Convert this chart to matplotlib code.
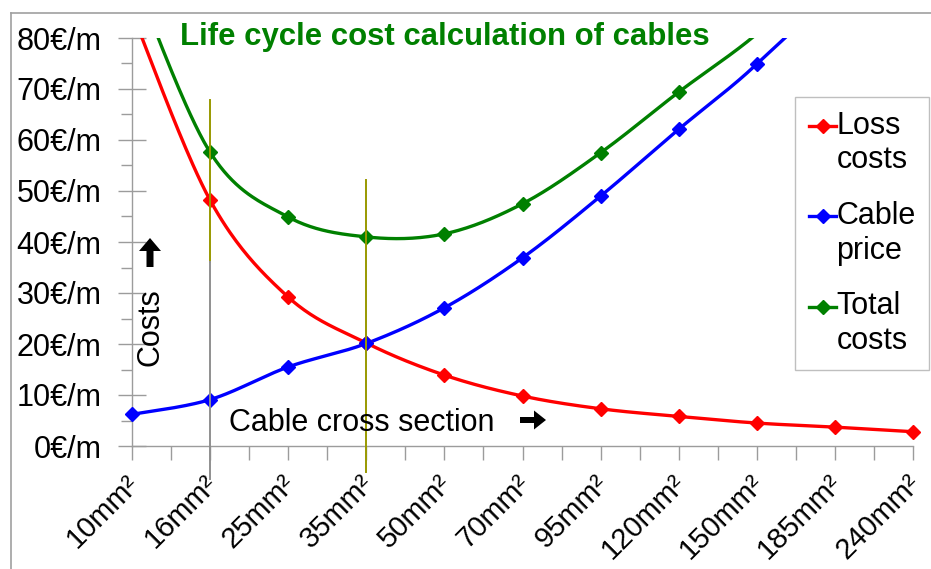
import numpy as np
import matplotlib
matplotlib.use("Agg")
import matplotlib.pyplot as plt
from matplotlib.lines import Line2D
from matplotlib.legend_handler import HandlerLine2D
from matplotlib.patches import FancyArrow
from matplotlib.transforms import IdentityTransform, ScaledTranslation

# ---------------- data ----------------
sizes = ["10mm²", "16mm²", "25mm²", "35mm²", "50mm²", "70mm²",
         "95mm²", "120mm²", "150mm²", "185mm²", "240mm²"]
loss_costs = [85.0, 48.2, 29.2, 20.2, 13.9, 9.8, 7.3, 5.8, 4.5, 3.7, 2.8]
cable_price = [6.2, 9.1, 15.5, 20.1, 27.1, 36.9, 49.0, 62.1, 74.9, 91.0, 118.0]
total_costs = [93.0, 57.6, 44.9, 41.0, 41.6, 47.5, 57.5, 69.4, 80.8, 95.0, 121.0]
series_names = ["Loss\ncosts", "Cable\nprice", "Total\ncosts"]
y_ticks = [0, 10, 20, 30, 40, 50, 60, 70, 80]

FONT = "Liberation Sans"
plt.rcParams["font.family"] = [FONT, "DejaVu Sans"]


def smooth(xs, ys, n=40):
    """Excel-like smoothed line (Catmull-Rom Bezier) for drawing only."""
    P = np.column_stack([xs, ys]).astype(float)
    m = len(P)
    out = []
    for i in range(m - 1):
        p0 = P[i - 1] if i > 0 else P[i]
        p1 = P[i]
        p2 = P[i + 1]
        p3 = P[i + 2] if i + 2 < m else P[i + 1]
        c1 = p1 + (p2 - p0) / 6.0
        c2 = p2 - (p3 - p1) / 6.0
        t = np.linspace(0, 1, n)[:, None]
        seg = ((1 - t) ** 3) * p1 + 3 * ((1 - t) ** 2) * t * c1 + 3 * (1 - t) * t ** 2 * c2 + t ** 3 * p2
        out.append(seg if i == 0 else seg[1:])
    out = np.vstack(out)
    return out[:, 0], out[:, 1]


fig = plt.figure(figsize=(9.31, 5.69), dpi=100)
W, H = 931, 569
ax = fig.add_axes([132 / W, 1 - 446 / H, (913 - 132) / W, (446 - 38) / H])

x = np.arange(len(sizes))
colors = ["#ff0000", "#0000ff", "#008000"]
handles = []
for vals, col, name in zip([loss_costs, cable_price, total_costs], colors, series_names):
    sx, sy = smooth(x, vals)
    ax.plot(sx, sy, color=col, lw=2.4, solid_capstyle="butt", zorder=3)
    v = np.asarray(vals)
    mask = v <= 80
    ax.plot(x[mask], v[mask], linestyle="none", marker="D", markersize=7,
            color=col, clip_on=False, zorder=4)
    handles.append(Line2D([], [], color=col, lw=2.4, marker="D", markersize=7, label=name))

ax.set_xlim(0, len(sizes) - 1)
ax.set_ylim(0, 80)

# vertical marker lines (annotation shapes)
ax.plot([1, 1], [67.8, 36.1], color="#999900", lw=1.4, clip_on=False, zorder=5)
ax.plot([1, 1], [36.1, -6.5], color="#8f8f8f", lw=1.4, clip_on=False, zorder=5)
ax.plot([3, 3], [52.2, -5.1], color="#999900", lw=1.4, clip_on=False, zorder=5)

# spines & ticks
for s in ["top", "right"]:
    ax.spines[s].set_visible(False)
axis_col = "#9c9c9c"
for s in ["left", "bottom"]:
    ax.spines[s].set_color(axis_col)
    ax.spines[s].set_linewidth(1.0)

ax.set_yticks(y_ticks)
ax.set_yticklabels([f"{v}€/m" for v in y_ticks])
ax.set_yticks(np.arange(5, 80, 10), minor=True)
ax.tick_params(axis="y", which="major", direction="inout", length=20, width=1,
               color=axis_col, labelsize=22, pad=12)
ax.tick_params(axis="y", which="minor", direction="out", length=8, width=1, color=axis_col)

ax.set_xticks(x)
ax.set_xticklabels(sizes)
ax.set_xticks(np.arange(0.5, len(sizes) - 1, 1.0), minor=True)
ax.tick_params(axis="x", which="both", direction="out", length=10, width=1,
               color=axis_col, labelsize=21, pad=7)
shift = ScaledTranslation(-7 / 100, 0, fig.dpi_scale_trans)
for lab in ax.get_xticklabels():
    lab.set_rotation(45)
    lab.set_rotation_mode("anchor")
    lab.set_ha("right")
    lab.set_va("top")
    lab.set_transform(lab.get_transform() + shift)

# title and axis annotations
fig.text(180 / W, 1 - 45 / H, "Life cycle cost calculation of cables", color="#008000",
         fontsize=22.4, fontweight="bold", ha="left", va="baseline")
fig.text(150 / W, 1 - 327 / H, "Costs", rotation=90, fontsize=22, ha="center", va="center")
fig.text(229 / W, 1 - 431 / H, "Cable cross section", fontsize=22, ha="left", va="baseline")

# arrows next to the annotations (pixel coordinates)
fig.add_artist(FancyArrow(150, H - 267, 0, 29, width=7, head_width=22, head_length=13,
                          length_includes_head=True, color="black", lw=0,
                          transform=IdentityTransform()))
fig.add_artist(FancyArrow(520, H - 420, 26, 0, width=6, head_width=19, head_length=12,
                          length_includes_head=True, color="black", lw=0,
                          transform=IdentityTransform()))

# figure frame lines
fig.add_artist(Line2D([11 / W, 11 / W], [0, 1 - 13 / H], color="#a0a0a0", lw=1.2,
                      transform=fig.transFigure))
fig.add_artist(Line2D([11 / W, 1], [1 - 13 / H, 1 - 13 / H], color="#a0a0a0", lw=1.2,
                      transform=fig.transFigure))


class ShiftedHandler(HandlerLine2D):
    def __init__(self, dy=0, **kw):
        super().__init__(**kw)
        self.dy = dy

    def create_artists(self, legend, orig_handle, xdescent, ydescent, width, height,
                       fontsize, trans):
        arts = super().create_artists(legend, orig_handle, xdescent, ydescent, width,
                                      height, fontsize, trans)
        for a in arts:
            a.set_ydata(np.asarray(a.get_ydata()) + self.dy)
        return arts


leg = fig.legend(handles=handles, loc="upper left",
                 bbox_to_anchor=(795 / W, 1 - 97 / H), bbox_transform=fig.transFigure,
                 fontsize=22, frameon=True, fancybox=False, edgecolor="#b0b0b0",
                 handlelength=0.9, handletextpad=0.0, labelspacing=0.84, borderpad=0.45,
                 borderaxespad=0,
                 handler_map={Line2D: ShiftedHandler(dy=0.58 * 22)})
leg.get_frame().set_linewidth(1.0)

fig.savefig("out.png", dpi=100)
